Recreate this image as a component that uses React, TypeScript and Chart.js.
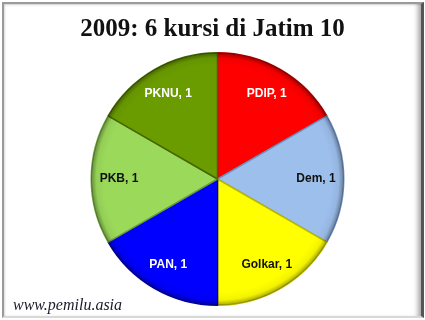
import React, { useEffect, useRef } from "react";
import { Chart, registerables } from "chart.js";

Chart.register(...registerables);

const parties = ["PDIP", "Dem", "Golkar", "PAN", "PKB", "PKNU"];
const seats = [1, 1, 1, 1, 1, 1];
const colors = ["#FF0000", "#9DBFEC", "#FFFF00", "#0000FF", "#9BD95A", "#6A9C00"];
const borders = ["#B00000", "#6E8FBF", "#B8B800", "#0000A8", "#6E9E3A", "#456600"];
const labelColors = ["#FFFFFF", "#111111", "#111111", "#FFFFFF", "#111111", "#FFFFFF"];
const titleText = "2009: 6 kursi di Jatim 10";
const watermark = "www.pemilu.asia";

const labelPlugin = {
  id: "sliceLabels",
  afterDatasetsDraw(chart: any) {
    const ctx = chart.ctx;
    const meta = chart.getDatasetMeta(0);
    const first = meta.data[0];
    if (first) {
      const { x, y, outerRadius } = first.getProps(["x", "y", "outerRadius"], true);
      ctx.save();
      const g = ctx.createRadialGradient(x, y, outerRadius * 0.9, x, y, outerRadius);
      g.addColorStop(0, "rgba(0,0,0,0)");
      g.addColorStop(0.6, "rgba(0,0,0,0.05)");
      g.addColorStop(1, "rgba(0,0,0,0.35)");
      ctx.fillStyle = g;
      ctx.beginPath();
      ctx.arc(x, y, outerRadius, 0, Math.PI * 2);
      ctx.fill();
      ctx.restore();
    }
    ctx.save();
    ctx.font = "bold 12px 'Liberation Sans', Arial, sans-serif";
    ctx.textAlign = "center";
    ctx.textBaseline = "middle";
    meta.data.forEach((arc: any, i: number) => {
      const { x, y, startAngle, endAngle, outerRadius } = arc.getProps(
        ["x", "y", "startAngle", "endAngle", "outerRadius"],
        true
      );
      const mid = (startAngle + endAngle) / 2;
      const r = outerRadius * 0.78;
      ctx.fillStyle = labelColors[i];
      ctx.fillText(`${parties[i]}, ${seats[i]}`, x + Math.cos(mid) * r, y + Math.sin(mid) * r);
    });
    ctx.restore();
  },
};

export default function App() {
  const ref = useRef<HTMLCanvasElement>(null);
  useEffect(() => {
    if (!ref.current) return;
    const chart = new Chart(ref.current, {
      type: "pie",
      data: {
        labels: parties,
        datasets: [
          {
            data: seats,
            backgroundColor: colors,
            borderColor: borders,
            borderWidth: 1.5,
          },
        ],
      },
      options: {
        responsive: false,
        animation: false,
        layout: { padding: { top: 52, bottom: 14, left: 10, right: 0 } },
        plugins: {
          legend: { display: false },
          tooltip: { enabled: false },
          title: { display: false },
        },
      },
      plugins: [labelPlugin],
    });
    return () => chart.destroy();
  }, []);

  return (
    <div style={{ position: "fixed", left: 0, top: 0, width: 425, height: 320, background: "#fff" }}>
      <div
        style={{
          position: "absolute",
          left: 2,
          top: 2,
          width: 417,
          height: 312,
          borderLeft: "2px solid #9a9a9a",
          borderTop: "2px solid #9a9a9a",
          borderRight: "3px solid #555",
          borderBottom: "2px solid #d8d8d8",
          boxShadow: "inset -6px 0 5px -3px rgba(0,0,0,0.35), inset 2px 2px 2px -1px rgba(0,0,0,0.15)",
          background: "#fff",
        }}
      />
      <canvas ref={ref} width={425} height={320} style={{ position: "absolute", left: 0, top: 0 }} />
      <div
        style={{
          position: "absolute",
          left: 0,
          top: 13,
          width: 425,
          textAlign: "center",
          fontFamily: "'Liberation Serif', 'DejaVu Serif', serif",
          fontWeight: "bold",
          fontSize: 25,
          lineHeight: "30px",
          color: "#111",
        }}
      >
        {titleText}
      </div>
      <div
        style={{
          position: "absolute",
          left: 13,
          top: 297,
          fontFamily: "'Liberation Serif', serif",
          fontStyle: "italic",
          fontSize: 16,
          color: "#1a1a2a",
          lineHeight: "16px",
        }}
      >
        {watermark}
      </div>
    </div>
  );
}
